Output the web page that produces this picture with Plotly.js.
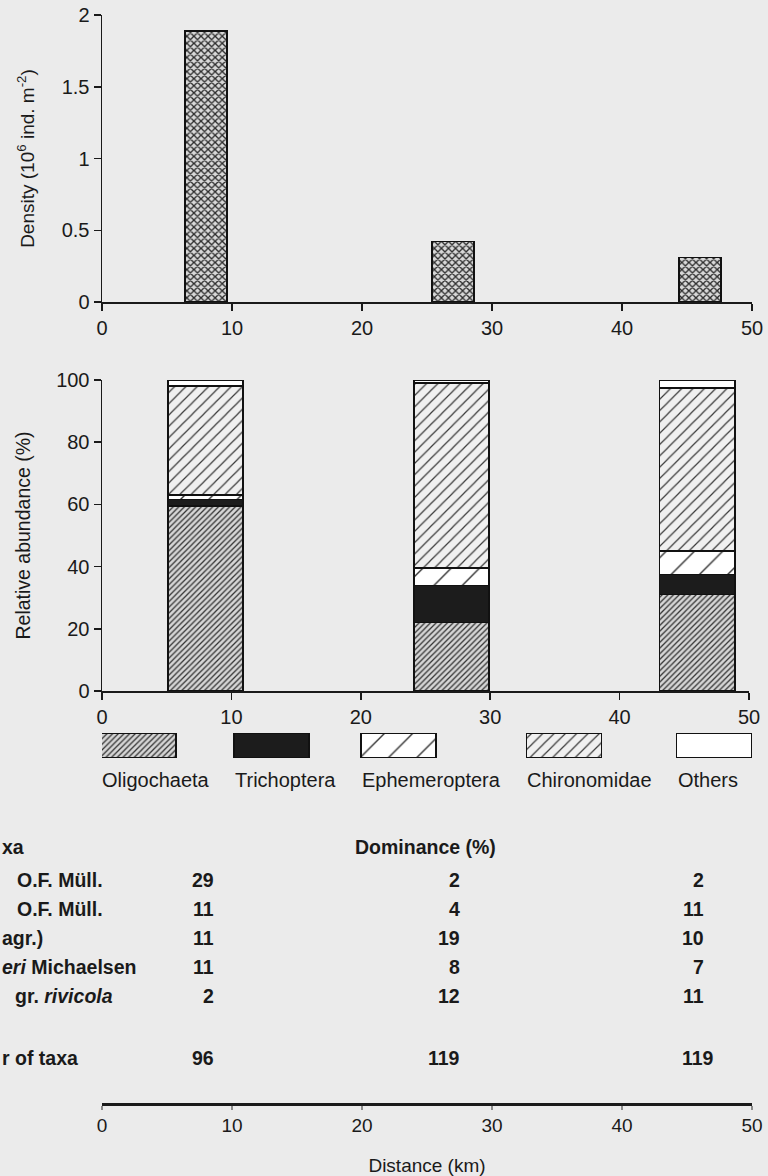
<!DOCTYPE html>
<html>
<head>
<meta charset="utf-8">
<script src="https://cdn.plot.ly/plotly-3.0.1.min.js"></script>
<style>
html,body{margin:0;padding:0;background:#ebebeb;}
#chart{width:768px;height:1176px;}
</style>
</head>
<body>
<div id="chart"></div>
<script>
// ---------------- DATA ----------------
const distanceKm = [8, 27, 46];
const density = [1.89, 0.42, 0.31];

const taxaGroups = ['Oligochaeta', 'Trichoptera', 'Ephemeroptera', 'Chironomidae', 'Others'];
const oligochaeta   = [59.5, 22, 31];
const trichoptera   = [2, 12, 6.5];
const ephemeroptera = [1.5, 5.5, 7.5];
const chironomidae  = [35, 59.5, 52.5];
const others        = [2, 1, 2.5];

const axisTicks = [0, 10, 20, 30, 40, 50];

const tableHeader = 'xa';
const tableTitle = 'Dominance (%)';
const tableTaxa = ['O.F. Müll.', 'O.F. Müll.', 'agr.)', '<i>eri</i> Michaelsen', 'gr. <i>rivicola</i>'];
const dominanceSite1 = [29, 11, 11, 11, 2];
const dominanceSite2 = [2, 4, 19, 8, 12];
const dominanceSite3 = [2, 11, 10, 7, 11];
const taxaCountLabel = 'r of taxa';
const taxaCount = [96, 119, 119];

// ---------------- LAYOUT HELPERS ----------------
const M = {l: 102, r: 16, t: 15, b: 73};
const PW = 768 - M.l - M.r, PH = 1176 - M.t - M.b;
const py = p => (1176 - M.b - p) / PH;   // pixel row -> paper y
const px = p => (p - M.l) / PW;          // pixel col -> paper x

const FONT = 'Liberation Sans, Arial, Helvetica, sans-serif';
const INK = '#1a1a1a';
const BG = '#ebebeb';

const styles = {
  Oligochaeta:   {color: '#d6d6d6', pattern: {shape: '/', size: 4, solidity: 0.32, fgcolor: '#333', bgcolor: '#d6d6d6'}},
  Trichoptera:   {color: '#1c1c1c', pattern: {shape: '', fgcolor: '#1c1c1c', bgcolor: '#1c1c1c'}},
  Ephemeroptera: {color: '#ffffff', pattern: {shape: '/', size: 20, solidity: 0.07, fgcolor: '#333', bgcolor: '#ffffff'}},
  Chironomidae:  {color: '#f0f0f0', pattern: {shape: '/', size: 8, solidity: 0.15, fgcolor: '#3a3a3a', bgcolor: '#f0f0f0'}},
  Others:        {color: '#ffffff', pattern: {shape: '', fgcolor: '#ffffff', bgcolor: '#ffffff'}}
};
const seriesValues = [oligochaeta, trichoptera, ephemeroptera, chironomidae, others];
const outline = {color: '#111', width: 1.5};

const densityBarWidth = 3.2;
const stackBarWidth = 5.8;
// legend swatch slots (km on the stacked-bar scale)
const legendSlotKm = [2.82, 13.1, 22.9, 35.7, 47.3];
const kmPerPx = 50 / 647;
const tableLabelX = [15, 15, 0, 0, 13];
const tableRowY = [880, 909, 938, 967, 996];
const tableColRight = [216, 462, 706];
const countColRight = [216, 462, 716];

// ---------------- TRACES ----------------
const traces = [];
traces.push({
  type: 'bar', x: distanceKm, y: density, width: densityBarWidth,
  xaxis: 'x', yaxis: 'y', showlegend: false, hoverinfo: 'x+y',
  marker: {color: '#cfcfcf', line: outline,
    pattern: {shape: 'x', size: 5, solidity: 0.45, fgcolor: '#2b2b2b', bgcolor: '#d8d8d8'}}
});
taxaGroups.forEach((name, i) => {
  traces.push({
    type: 'bar', name: name, x: distanceKm, y: seriesValues[i], width: stackBarWidth,
    xaxis: 'x2', yaxis: 'y2', showlegend: false,
    marker: {color: styles[name].color, pattern: styles[name].pattern, line: outline}
  });
});
// legend swatches
taxaGroups.forEach((name, i) => {
  traces.push({
    type: 'bar', name: name + ' key', x: [legendSlotKm[i]], y: [1], width: stackBarWidth,
    xaxis: 'x3', yaxis: 'y3', showlegend: false, hoverinfo: 'skip', cliponaxis: false,
    marker: {color: styles[name].color, pattern: styles[name].pattern, line: outline}
  });
});
// dummy trace to anchor the distance axis
traces.push({type: 'scatter', x: [0, 50], y: [0, 0], xaxis: 'x4', yaxis: 'y4',
  mode: 'markers', marker: {opacity: 0}, showlegend: false, hoverinfo: 'skip'});

// ---------------- AXES ----------------
const tickFont = {family: FONT, size: 20, color: INK};
const baseX = {range: [0, 50], tickvals: axisTicks, ticks: 'outside', ticklen: 7, tickwidth: 1.5,
  tickcolor: INK, showline: true, linecolor: INK, linewidth: 1.5, showgrid: false, zeroline: false,
  tickfont: tickFont, fixedrange: true, automargin: false};
const baseY = {ticks: 'outside', ticklen: 7, tickwidth: 1.5, tickcolor: INK, showline: true,
  linecolor: INK, linewidth: 1.5, showgrid: false, zeroline: false, tickfont: tickFont,
  fixedrange: true, automargin: false};

const annotations = [];
taxaGroups.forEach((name, i) => {
  const leftPx = M.l + (legendSlotKm[i] - stackBarWidth / 2) / kmPerPx - 1;
  annotations.push({xref: 'paper', yref: 'paper', x: px(leftPx), y: py(780),
    xanchor: 'left', yanchor: 'middle', showarrow: false, text: name,
    font: {family: FONT, size: 20, color: INK}});
});
const tFont = {family: FONT, size: 19.5, color: INK, weight: 'bold'};
annotations.push({xref: 'paper', yref: 'paper', x: px(0), y: py(847), xanchor: 'left', yanchor: 'middle',
  showarrow: false, text: tableHeader, font: tFont});
annotations.push({xref: 'paper', yref: 'paper', x: px(425), y: py(847), xanchor: 'center', yanchor: 'middle',
  showarrow: false, text: tableTitle, font: tFont});
tableTaxa.forEach((t, r) => {
  annotations.push({xref: 'paper', yref: 'paper', x: px(tableLabelX[r]), y: py(tableRowY[r]),
    xanchor: 'left', yanchor: 'middle', showarrow: false, text: t, font: tFont});
  [dominanceSite1, dominanceSite2, dominanceSite3].forEach((col, c) => {
    annotations.push({xref: 'paper', yref: 'paper', x: px(tableColRight[c]), y: py(tableRowY[r]),
      xanchor: 'right', yanchor: 'middle', showarrow: false, text: String(col[r]), font: tFont});
  });
});
annotations.push({xref: 'paper', yref: 'paper', x: px(0), y: py(1058), xanchor: 'left', yanchor: 'middle',
  showarrow: false, text: taxaCountLabel, font: tFont});
taxaCount.forEach((v, c) => {
  annotations.push({xref: 'paper', yref: 'paper', x: px(countColRight[c]), y: py(1058),
    xanchor: 'right', yanchor: 'middle', showarrow: false, text: String(v), font: tFont});
});

const layout = {
  width: 768, height: 1176,
  margin: M,
  paper_bgcolor: BG, plot_bgcolor: 'rgba(0,0,0,0)',
  barmode: 'stack', bargap: 0,
  showlegend: false,
  font: {family: FONT, color: INK},
  xaxis: Object.assign({}, baseX, {domain: [0, 1], anchor: 'y'}),
  yaxis: Object.assign({}, baseY, {domain: [py(302), py(15)], anchor: 'x', range: [0, 2],
    tickvals: [0, 0.5, 1, 1.5, 2],
    title: {text: 'Density (10<sup>6</sup> ind. m<sup>-2</sup>)', font: {family: FONT, size: 19, color: INK}, standoff: 22}}),
  xaxis2: Object.assign({}, baseX, {domain: [0, 647 / 650], anchor: 'y2'}),
  yaxis2: Object.assign({}, baseY, {domain: [py(691), py(380)], anchor: 'x2', range: [0, 100],
    tickvals: [0, 20, 40, 60, 80, 100],
    title: {text: 'Relative abundance (%)', font: {family: FONT, size: 19.5, color: INK}, standoff: 20}}),
  xaxis3: {domain: [0, 1], anchor: 'y3', range: [0, 650 * kmPerPx], visible: false, fixedrange: true},
  yaxis3: {domain: [py(758), py(733)], anchor: 'x3', range: [0, 1], visible: false, fixedrange: true},
  xaxis4: Object.assign({}, baseX, {domain: [0, 1], anchor: 'y4', linewidth: 2.5, ticklen: 4,
    tickwidth: 2, tickcolor: '#8a8a8a', tickfont: {family: FONT, size: 19, color: INK},
    title: {text: 'Distance (km)', font: {family: FONT, size: 19, color: INK}, standoff: 24}}),
  yaxis4: {domain: [0, 0.002], anchor: 'x4', range: [0, 1], visible: false, fixedrange: true},
  annotations: annotations
};

Plotly.newPlot('chart', traces, layout, {displayModeBar: false, staticPlot: true});
</script>
</body>
</html>
